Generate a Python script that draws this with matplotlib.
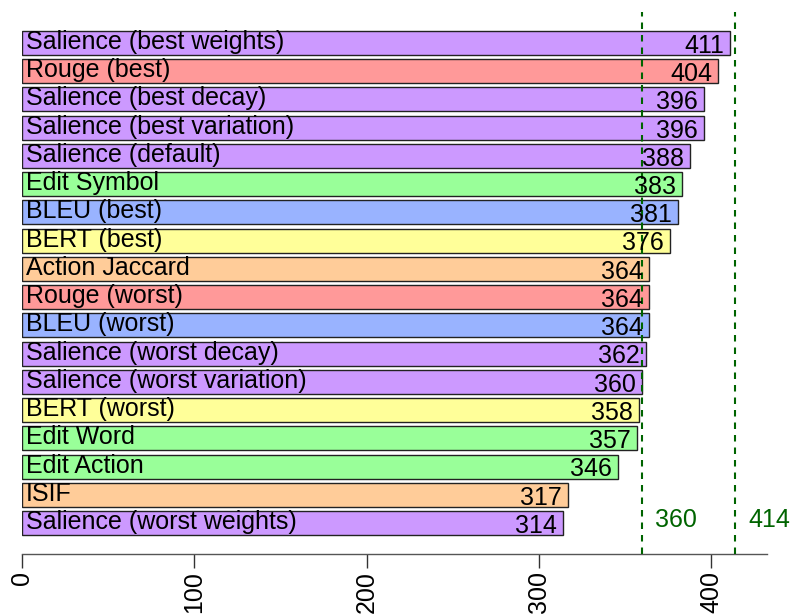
import matplotlib
matplotlib.use("Agg")
import matplotlib.pyplot as plt

categories = [
    "Salience (best weights)", "Rouge (best)", "Salience (best decay)",
    "Salience (best variation)", "Salience (default)", "Edit Symbol",
    "BLEU (best)", "BERT (best)", "Action Jaccard", "Rouge (worst)",
    "BLEU (worst)", "Salience (worst decay)", "Salience (worst variation)",
    "BERT (worst)", "Edit Word", "Edit Action", "ISIF", "Salience (worst weights)",
]
values = [411, 404, 396, 396, 388, 383, 381, 376, 364, 364, 364, 362, 360, 358, 357, 346, 317, 314]
groups = ["salience", "rouge", "salience", "salience", "salience", "edit",
          "bleu", "bert", "other", "rouge", "bleu", "salience", "salience",
          "bert", "edit", "edit", "other", "salience"]
group_colors = {
    "salience": "#CC99FF", "rouge": "#FF9999", "edit": "#99FF99",
    "bleu": "#99B3FF", "bert": "#FFFF99", "other": "#FFCC99",
}
ref_lines = [360, 414]
xticks = [0, 100, 200, 300, 400]

plt.rcParams['font.family'] = ['Liberation Sans', 'DejaVu Sans']
W, H = 796, 614
fig = plt.figure(figsize=(W / 100, H / 100), dpi=100)
left_px, right_px, top_px, bot_px = 22, 767, 12, 554
ax = fig.add_axes([left_px / W, 1 - bot_px / H, (right_px - left_px) / W, (bot_px - top_px) / H])

pitch = (523 - 43) / 17.0
ytop = (top_px - 43) / pitch
ybot = (bot_px - 43) / pitch
ax.set_xlim(0, 432.5)
ax.set_ylim(ybot, ytop)

ypos = list(range(len(values)))
ax.barh(ypos, values, height=24 / pitch, color=[group_colors[g] for g in groups],
        edgecolor="#222222", linewidth=1.0, zorder=2)

fs = 18
px = 0.72  # points per pixel at dpi 100
for y, v, c in zip(ypos, values, categories):
    ax.annotate(c, (0, y), xytext=(3, -6 * px), textcoords="offset points",
                ha="left", va="baseline", fontsize=fs, color="black", zorder=4)
    ax.annotate(str(v), (v, y), xytext=(-4.3, -9.8 * px), textcoords="offset points",
                ha="right", va="baseline", fontsize=fs, color="black", zorder=4)

lw = 1.5
for r in ref_lines:
    ax.axvline(r, color="#006400", linewidth=lw,
               linestyle=(0, (6.5 * px / lw, 6 * px / lw)), zorder=3)
    ax.annotate(str(r), (r, 17), xytext=(9.3, -3.7 * px), textcoords="offset points",
                ha="left", va="baseline", fontsize=fs, color="#006400", zorder=4)

for s in ["top", "right", "left"]:
    ax.spines[s].set_visible(False)
ax.spines["bottom"].set_color("#555555")
ax.spines["bottom"].set_linewidth(1.0)
ax.set_yticks([])
ax.set_xticks(xticks)
ax.set_xticklabels([str(t) for t in xticks], rotation=90, fontsize=fs)
ax.tick_params(axis="x", length=10, width=1.0, color="#333333", pad=2)

fig.savefig("out.png", dpi=100)
